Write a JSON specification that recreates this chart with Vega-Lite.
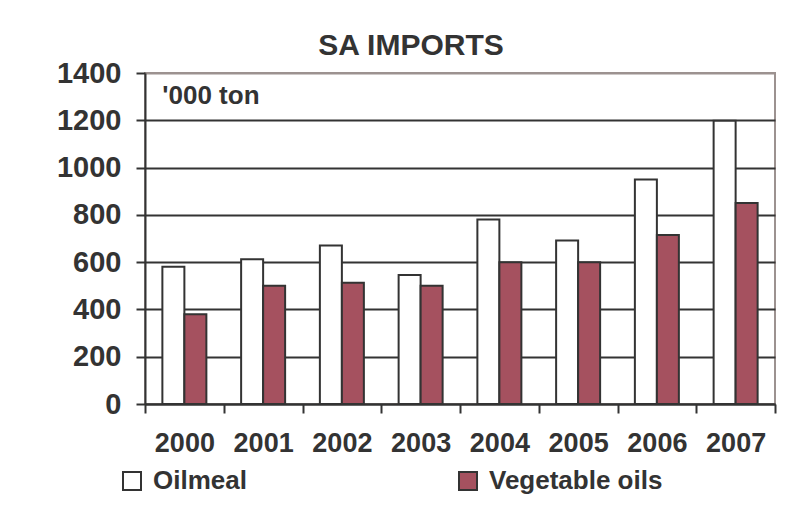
{
  "$schema": "https://vega.github.io/schema/vega-lite/v6.json",
  "width": 630,
  "height": 331,
  "autosize": {"type": "none"},
  "padding": {"left": 145, "top": 73, "right": 26, "bottom": 113},
  "background": "white",
  "title": {
    "text": "SA IMPORTS",
    "font": "Liberation Sans",
    "fontSize": 30,
    "fontWeight": "bold",
    "color": "#333333",
    "anchor": "middle",
    "dx": -49,
    "dy": 47,
    "baseline": "alphabetic",
    "offset": 21
  },
  "config": {
    "view": {"stroke": "#9c9290", "strokeWidth": 2},
    "font": "Liberation Sans"
  },
  "data": {
    "values": [
      {"year": "2000", "series": "Oilmeal", "value": 580},
      {"year": "2000", "series": "Vegetable oils", "value": 380},
      {"year": "2001", "series": "Oilmeal", "value": 612},
      {"year": "2001", "series": "Vegetable oils", "value": 500},
      {"year": "2002", "series": "Oilmeal", "value": 670},
      {"year": "2002", "series": "Vegetable oils", "value": 513},
      {"year": "2003", "series": "Oilmeal", "value": 546},
      {"year": "2003", "series": "Vegetable oils", "value": 500},
      {"year": "2004", "series": "Oilmeal", "value": 780},
      {"year": "2004", "series": "Vegetable oils", "value": 600},
      {"year": "2005", "series": "Oilmeal", "value": 692},
      {"year": "2005", "series": "Vegetable oils", "value": 600},
      {"year": "2006", "series": "Oilmeal", "value": 950},
      {"year": "2006", "series": "Vegetable oils", "value": 715},
      {"year": "2007", "series": "Oilmeal", "value": 1198},
      {"year": "2007", "series": "Vegetable oils", "value": 850}
    ]
  },
  "layer": [
    {
      "mark": {"type": "bar", "stroke": "#333333", "strokeWidth": 2},
      "encoding": {
        "x": {
          "field": "year",
          "type": "nominal",
          "scale": {"paddingInner": 0, "paddingOuter": 0},
          "axis": {
            "title": null,
            "labelAngle": 0,
            "labelFont": "Liberation Sans",
            "labelFontSize": 27,
            "labelFontWeight": "bold",
            "labelColor": "#333333",
            "labelPadding": 17,
            "domainColor": "#333333",
            "domainWidth": 2,
            "tickColor": "#333333",
            "tickWidth": 2,
            "tickSize": 9,
            "tickBand": "extent",
            "grid": false
          }
        },
        "xOffset": {
          "field": "series",
          "sort": ["Oilmeal", "Vegetable oils"],
          "scale": {"paddingInner": 0, "paddingOuter": 0.79}
        },
        "y": {
          "field": "value",
          "type": "quantitative",
          "scale": {"domain": [0, 1400]},
          "axis": {
            "title": null,
            "values": [0, 200, 400, 600, 800, 1000, 1200, 1400],
            "format": "d",
            "labelFont": "Liberation Sans",
            "labelFontSize": 29,
            "labelFontWeight": "bold",
            "labelColor": "#333333",
            "labelPadding": 15,
            "tickSize": 9,
            "tickColor": "#333333",
            "tickWidth": 2,
            "domainColor": "#333333",
            "domainWidth": 2,
            "grid": true,
            "gridColor": {"condition": {"test": "datum.value == 1400", "value": "#9c9290"}, "value": "#333333"},
            "gridWidth": 1.8
          }
        },
        "color": {
          "field": "series",
          "type": "nominal",
          "scale": {"domain": ["Oilmeal", "Vegetable oils"], "range": ["#ffffff", "#A5515F"]},
          "legend": {
            "title": null,
            "orient": "none",
            "legendX": -26,
            "legendY": 395,
            "padding": 0,
            "direction": "horizontal",
            "symbolType": "square",
            "symbolSize": 324,
            "symbolStrokeColor": "#333333",
            "symbolStrokeWidth": 2,
            "symbolOpacity": 1,
            "labelFont": "Liberation Sans",
            "labelFontSize": 26,
            "labelFontWeight": "bold",
            "labelColor": "#333333",
            "labelOffset": 8,
            "labelLimit": 400,
            "columnPadding": 208
          }
        }
      }
    },
    {
      "data": {"values": [{"label": "'000 ton"}]},
      "mark": {"type": "text", "align": "left", "baseline": "alphabetic", "font": "Liberation Sans", "fontSize": 26, "fontWeight": "bold", "color": "#333333"},
      "encoding": {
        "x": {"datum": "2000", "type": "nominal", "bandPosition": 0.22},
        "y": {"datum": 1270, "type": "quantitative"},
        "text": {"field": "label"}
      }
    }
  ]
}
